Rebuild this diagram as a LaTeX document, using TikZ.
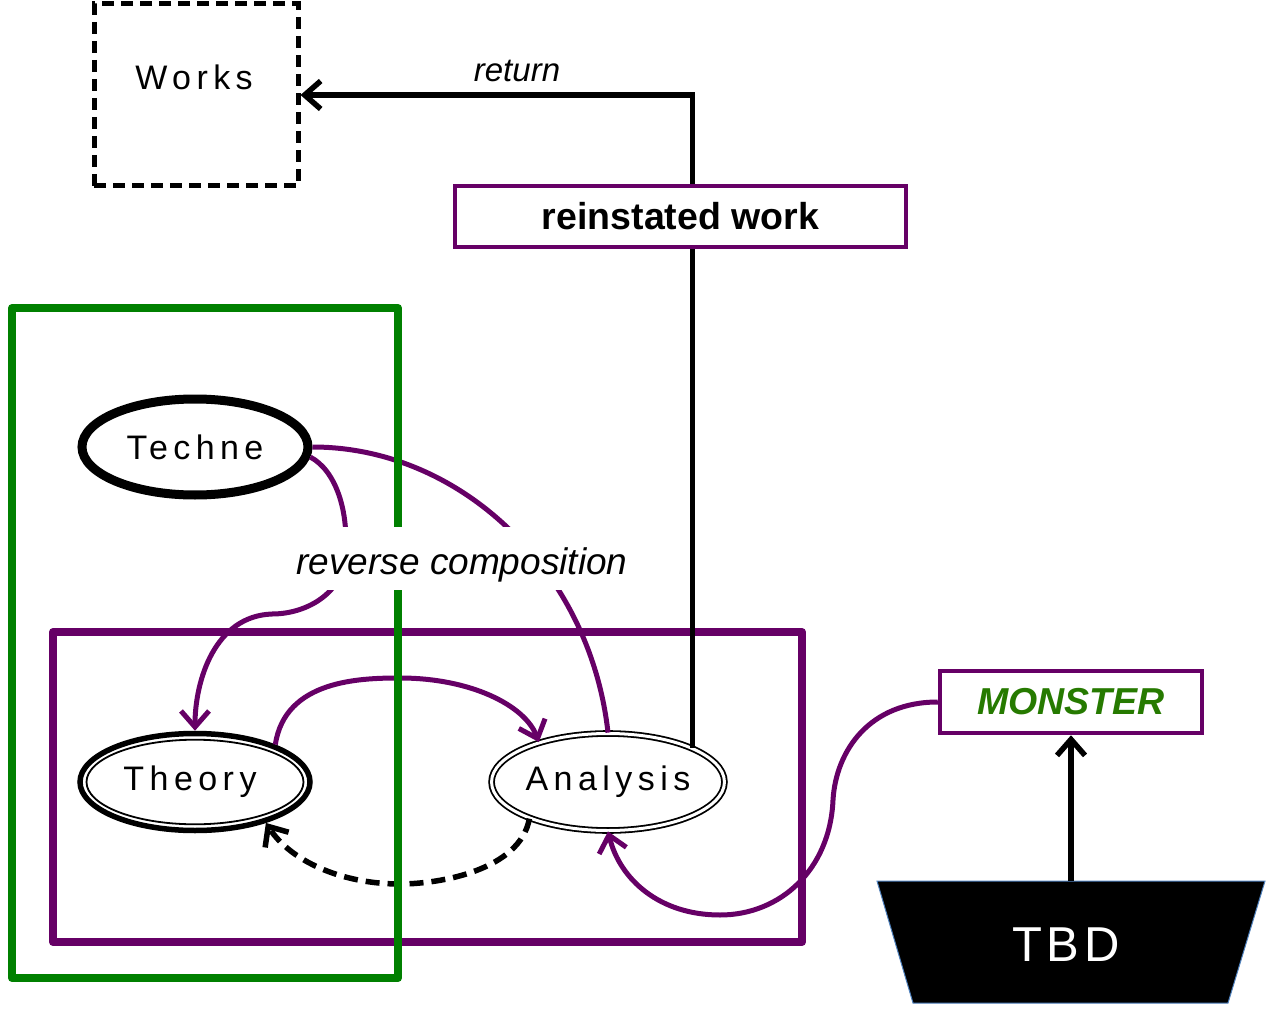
\documentclass[tikz,border=0pt]{standalone}
\usepackage{fontspec}
\setmainfont{Liberation Sans}
\newfontfamily\spaced[LetterSpace=16]{Liberation Sans}
\newfontfamily\spacedb[LetterSpace=10]{Liberation Sans}
\usetikzlibrary{arrows.meta,shapes.geometric}
\definecolor{pur}{RGB}{102,0,102}
\definecolor{grn}{RGB}{0,128,0}
\definecolor{mgrn}{RGB}{38,122,0}
\definecolor{tbdedge}{RGB}{79,129,189}
\begin{document}
\begin{tikzpicture}[x=1pt,y=-1pt,
  arr/.style={-{Straight Barb[length=16pt,width=28pt]}},
  ell/.style={ellipse, inner sep=0pt, fill=white, font={\spaced\fontsize{34}{40}\selectfont}},
  pbox/.style={draw=pur, line width=4.5pt, fill=white, inner sep=0pt},
  pcurve/.style={draw=pur, line width=5pt},
  kcurve/.style={draw=black, line width=5.5pt},
]
\useasboundingbox (0,0) rectangle (1274,1016);

% purple frame
\draw[pur, line width=8pt, line join=round] (53,632) rectangle (802,942);

% nodes
\node[draw, line width=5pt, dash pattern=on 12pt off 7pt, minimum width=204pt, minimum height=182pt, inner sep=0pt,
      text height=25pt, text depth=35pt, font={\spaced\fontsize{34}{40}\selectfont}] (works) at (196,95) {\hspace*{-4pt}Works};
\node[ell, draw, line width=9pt, minimum width=226pt, minimum height=96pt] (techne) at (195,447) {Techne};
\node[ell, draw, line width=5.5pt, minimum width=230pt, minimum height=97pt] (theory) at (195,782) {\hspace*{-10pt}Theory};
\draw[line width=1.8pt] (theory.center) ellipse [x radius=108.5pt, y radius=42.3pt];
\node[ell, draw, double, double distance=3pt, line width=1.8pt, minimum width=228pt, minimum height=97pt] (analysis) at (608,782) {Analysis};

% return line
\draw[kcurve, arr] (analysis.22) |- (works.east);
\node[font={\itshape\fontsize{33}{33}\selectfont}, anchor=base] (returnlbl) at (517,82) {return};

\node[pbox, minimum width=451pt, minimum height=61pt, font={\bfseries\fontsize{37.5}{37.5}\selectfont}] (reinst) at (680.5,216.5) {reinstated work};

% monster and TBD
\node[pbox, minimum width=262pt, minimum height=62pt, font={\bfseries\itshape\fontsize{37.5}{37.5}\selectfont}, text=mgrn] (monster) at (1071,702) {MONSTER};
\filldraw[fill=black, draw=tbdedge, line width=1pt] (877,881) -- (1265,881) -- (1228,1003) -- (913,1003) -- cycle;
\node[text=white, font={\spacedb\fontsize{49}{49}\selectfont}] (tbd) at (1066,945) {TBD};
\coordinate (tbdtop) at (1071,881);
\draw[kcurve, arr] (tbdtop) -- (monster.south);

% curves
\draw[pcurve] (techne.east) .. controls (460,447) and (590,570) .. (analysis.north);
\draw[pcurve, arr] (techne.-5) .. controls (335,470) and (350,510) .. (345,560)
   .. controls (340,595) and (305,614) .. (272,614)
   .. controls (215,616) and (195,680) .. (theory.north);
\draw[pcurve, arr] (theory.25) .. controls (285,680) and (360,678) .. (400,678)
   .. controls (470,678) and (525,705) .. (analysis.150);
\draw[kcurve, arr, dash pattern=on 14pt off 8pt] (analysis.205) .. controls (520,870) and (440,884) .. (400,884)
   .. controls (340,884) and (290,860) .. (theory.-30);
\draw[pcurve, arr] (monster.west) .. controls (870,702) and (836,750) .. (833,800)
   .. controls (830,870) and (780,915) .. (720,915)
   .. controls (660,915) and (620,880) .. (analysis.south);

% green frame
\draw[grn, line width=8pt, line join=round] (12,308) rectangle (398,978);

% label
\node[fill=white, inner xsep=10pt, inner ysep=6pt, text height=41pt, text depth=10pt, anchor=base,
      font={\itshape\fontsize{37}{37}\selectfont}] (rc) at (462,574) {reverse composition};
\end{tikzpicture}
\end{document}
